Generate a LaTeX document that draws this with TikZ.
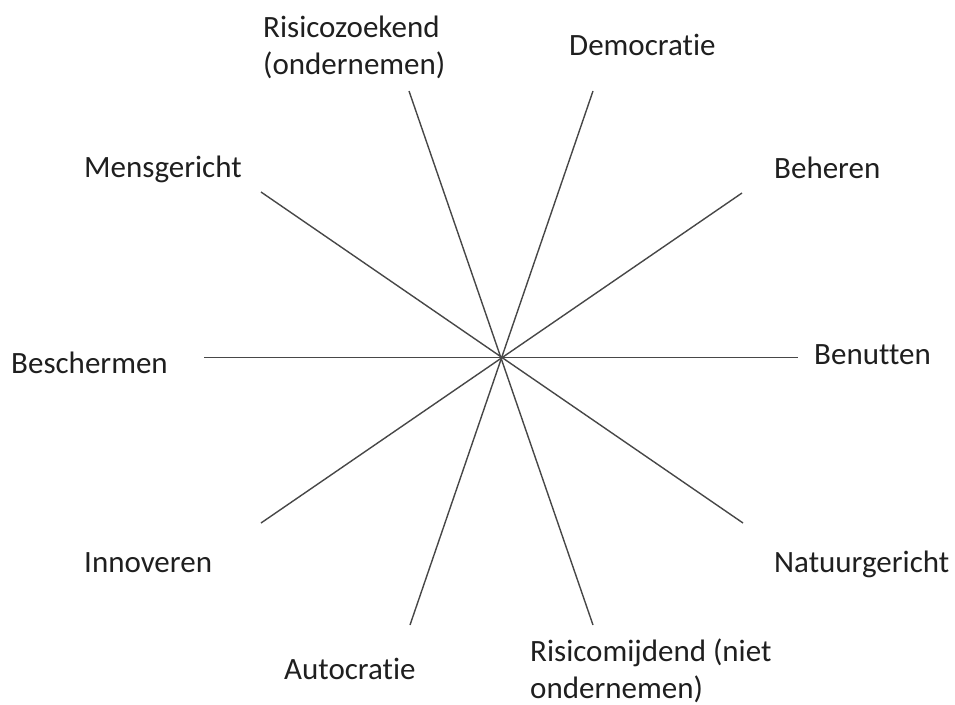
\documentclass[tikz,border=0pt]{standalone}
\usepackage{fontspec}
\setmainfont{Carlito}[RawFeature=-liga]
\usepackage{xcolor}
\usetikzlibrary{positioning}

\begin{document}
\begin{tikzpicture}[
  x=1pt, y=-1pt,
  axis/.style={draw=black!72, line width=1.4pt},
  lbl/.style={anchor=base west, inner sep=0pt, align=left, text=black!88,
              font=\fontsize{31}{37}\selectfont}
]
\useasboundingbox (0,0) rectangle (955,704);
\coordinate (mid) at (501.5,357.5);
% end points of the spokes
\coordinate (eW)  at (204,357.5);
\coordinate (eE)  at (798,357.5);
\coordinate (eNW) at (261,192);
\coordinate (eSE) at (743,523);
\coordinate (eNE) at (742,193);
\coordinate (eSW) at (261,523);
\coordinate (eNNW) at (409,91);
\coordinate (eSSE) at (593,625);
\coordinate (eNNE) at (593,91);
\coordinate (eSSW) at (410,625);
\foreach \a/\b in {eW/eE, eNW/eSE, eNE/eSW, eNNW/eSSE, eNNE/eSSW}
  \draw[axis] (\a) -- (\b);
% labels (base = last line)
\node[lbl] (risk)   at (263,74)  {Risicozoekend\\(ondernemen)};
\node[lbl] (demo)   at (569,55)  {Democratie};
\node[lbl] (mens)   at (84,177)  {Mensgericht};
\node[lbl] (beheer) at (774,178) {Beheren};
\node[lbl] (besch)  at (11,373)  {Beschermen};
\node[lbl] (benut)  at (814,364) {Benutten};
\node[lbl] (innov)  at (84,572)  {Innoveren};
\node[lbl] (natuur) at (774,572) {Natuurgericht};
\node[lbl] (auto)   at (284,679) {Autocratie};
\node[lbl] (mijd)   at (530,698) {Risicomijdend (niet\\ondernemen)};
\end{tikzpicture}
\end{document}
